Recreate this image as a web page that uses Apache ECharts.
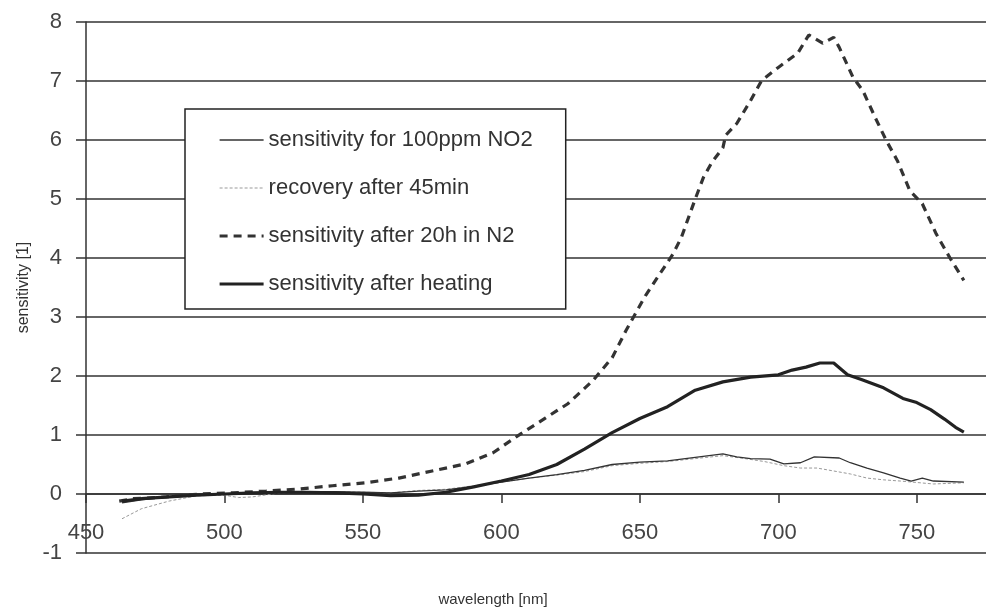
<!DOCTYPE html>
<html>
<head>
<meta charset="utf-8">
<script src="https://cdn.jsdelivr.net/npm/echarts@6/dist/echarts.min.js"></script>
<style>
html,body{margin:0;padding:0;background:#fff;}
#chart{width:986px;height:607px;}
</style>
</head>
<body>
<div id="chart"></div>
<script>
// ---- data ----
var seriesNames = ['sensitivity for 100ppm NO2', 'recovery after 45min', 'sensitivity after 20h in N2', 'sensitivity after heating'];

var no2X = [463,470,480,490,500,510,520,530,540,550,560,570,580,590,600,610,620,630,640,650,660,670,680,685,690,697,702,708,713,722,726,732,738,744,748,752,756,767];
var no2Y = [-0.15,-0.1,-0.05,-0.02,0.0,0.02,0.03,0.04,0.04,0.03,0.02,0.05,0.07,0.13,0.2,0.27,0.33,0.4,0.5,0.54,0.56,0.62,0.68,0.63,0.6,0.59,0.51,0.53,0.63,0.61,0.53,0.44,0.36,0.27,0.22,0.27,0.22,0.2];

var recX = [463,470,480,490,500,505,510,520,530,540,550,560,570,580,590,600,610,620,630,640,650,660,670,680,688,695,702,708,714,720,726,732,738,744,756,767];
var recY = [-0.42,-0.25,-0.12,-0.03,-0.02,-0.06,-0.05,0.02,0.03,0.04,0.03,0.02,0.06,0.08,0.14,0.2,0.27,0.32,0.38,0.48,0.52,0.55,0.6,0.65,0.6,0.55,0.48,0.44,0.44,0.39,0.34,0.27,0.24,0.22,0.17,0.19];

var n2X = [462,467,479,491,503,515,527,539,551,563,575,587,597,607,616,624,633,640,645,652,662,665,670,673,676,680,681,685,690,694,700,707,711,716,720,722,727,730.5,735,739,743,747.5,752,757,762,767];
var n2Y = [-0.12,-0.08,-0.05,0,0.02,0.05,0.085,0.14,0.19,0.27,0.39,0.51,0.7,1.02,1.29,1.53,1.92,2.31,2.77,3.36,4.07,4.35,5.0,5.37,5.62,5.87,6.08,6.28,6.67,7.01,7.23,7.47,7.78,7.64,7.74,7.57,7.06,6.84,6.38,5.99,5.65,5.14,4.92,4.41,4.0,3.62];

var heatX = [463,470,480,490,500,510,520,530,540,550,560,570,580,590,600,610,620,630,640,650,660,670,680,690,700,705,710,715,720,725,730,738,745,750,755,760,764,767];
var heatY = [-0.12,-0.08,-0.05,-0.02,0.0,0.02,0.03,0.03,0.02,0.0,-0.03,-0.02,0.03,0.12,0.22,0.33,0.5,0.76,1.04,1.28,1.48,1.76,1.9,1.98,2.02,2.1,2.15,2.22,2.22,2.02,1.94,1.8,1.62,1.55,1.43,1.27,1.13,1.05];

var xTicks = {min: 450, max: 775, interval: 50};
var yTicks = {min: -1, max: 8, interval: 1};

function pairs(xs, ys) { return xs.map(function (x, i) { return [x, ys[i]]; }); }

var FONT = 'Liberation Sans';
var styles = [
  {color: '#333', width: 1.3, type: 'solid'},
  {color: '#999', width: 1, type: [3, 2]},
  {color: '#333', width: 3.2, type: [8, 6]},
  {color: '#222', width: 3.2, type: 'solid'}
];
var chart = echarts.init(document.getElementById('chart'), null, {renderer: 'canvas'});
chart.setOption({
  animation: false,
  backgroundColor: '#fff',
  grid: {left: 86, right: 0, top: 22, bottom: 54, containLabel: false, outerBoundsMode: 'none'},
  legend: {
    orient: 'vertical',
    left: 185, top: 109,
    padding: [19, 33, 13, 33],
    itemWidth: 44, itemHeight: 14, itemGap: 24,
    backgroundColor: '#fff',
    borderColor: '#222', borderWidth: 1.5,
    itemStyle: {opacity: 0},
    textStyle: {fontFamily: FONT, fontSize: 22, color: '#333', lineHeight: 24},
    data: seriesNames.map(function (n, i) {
      return {name: n, lineStyle: {width: styles[i].width, type: styles[i].type, color: styles[i].color}};
    })
  },
  xAxis: {
    type: 'value',
    min: xTicks.min, max: xTicks.max, interval: xTicks.interval,
    name: 'wavelength [nm]', nameLocation: 'middle', nameGap: 39,
    nameTextStyle: {fontFamily: FONT, fontSize: 15, color: '#333', padding: [0, 86, 0, 0]},
    axisLine: {onZero: true, lineStyle: {color: '#333', width: 1.5}},
    axisTick: {show: true, inside: false, length: 9, lineStyle: {color: '#333', width: 1.5}},
    axisLabel: {margin: -31, fontFamily: FONT, fontSize: 22, color: '#444', showMaxLabel: false},
    splitLine: {show: false}
  },
  yAxis: {
    type: 'value',
    min: yTicks.min, max: yTicks.max, interval: yTicks.interval,
    name: 'sensitivity [1]', nameLocation: 'middle', nameGap: 53,
    nameTextStyle: {fontFamily: FONT, fontSize: 16, color: '#333'},
    axisLine: {show: true, lineStyle: {color: '#333', width: 1.5}},
    axisTick: {show: true, inside: false, length: 10, lineStyle: {color: '#333', width: 1.5}},
    axisLabel: {margin: 24, fontFamily: FONT, fontSize: 22, color: '#444'},
    splitLine: {show: true, lineStyle: {color: '#333', width: 1.5}}
  },
  series: [
    {name: seriesNames[0], type: 'line', symbol: 'none', data: pairs(no2X, no2Y),
     lineStyle: styles[0], itemStyle: {color: styles[0].color}, z: 3},
    {name: seriesNames[1], type: 'line', symbol: 'none', data: pairs(recX, recY),
     lineStyle: styles[1], itemStyle: {color: styles[1].color}, z: 2},
    {name: seriesNames[2], type: 'line', symbol: 'none', data: pairs(n2X, n2Y),
     lineStyle: styles[2], itemStyle: {color: styles[2].color}, z: 4},
    {name: seriesNames[3], type: 'line', symbol: 'none', data: pairs(heatX, heatY),
     lineStyle: styles[3], itemStyle: {color: styles[3].color}, z: 5}
  ]
});
</script>
</body>
</html>
